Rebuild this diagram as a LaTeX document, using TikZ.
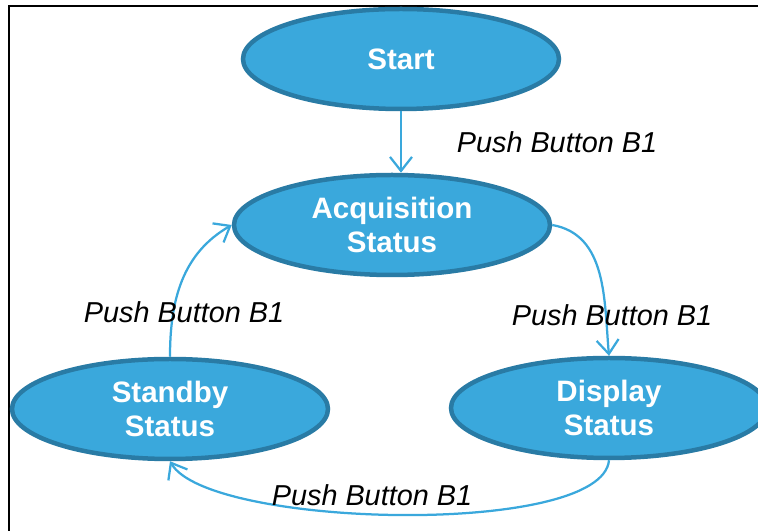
\documentclass[tikz,border=0pt]{standalone}
\usepackage{fontspec}
\setsansfont{Liberation Sans}
\usepackage{tikz}
\usetikzlibrary{shapes.geometric}
\usetikzlibrary{arrows.meta}
\definecolor{stateblue}{RGB}{58,168,220}
\definecolor{stateedge}{RGB}{41,123,165}

\begin{document}
\begin{tikzpicture}[
  state/.style={ellipse,fill=stateblue,draw=stateedge,line width=3.2pt,
    minimum width=7.9cm,minimum height=2.5cm,inner sep=0pt,align=center,
    text=white,font=\sffamily\bfseries\fontsize{21}{24.5}\selectfont},
  flow/.style={draw=stateblue,line width=1.6pt,
    -{Straight Barb[length=0.35cm,width=0.55cm]}},
  event/.style={font=\sffamily\itshape\fontsize{20.5}{24}\selectfont}]
\useasboundingbox (0,0) rectangle (18.95,13.275);
\draw[line width=2pt] (0.225,0) -- (0.225,13.125) -- (18.95,13.125);

\node (start) at (10.025,11.8) [state] {Start};
\node (acq) at (9.8,7.65) [state] {Acquisition\\Status};
\node (standby) at (4.25,3.05) [state] {Standby\\Status};
\node (display) at (15.225,3.075) [state] {Display\\Status};

\draw[flow] (start.south) -- (start.south |- acq.north);
\draw[flow] (acq.east) to[out=-10,in=95] (display.north);
\draw[flow] (display.south) to[out=-95,in=-60,looseness=0.45] (standby.south);
\draw[flow] (standby.north) to[out=90,in=210] (acq.west);

\node (evstart) at (13.925,9.725) [event] {Push Button B1};
\node (evacq) at (15.3,5.4) [event] {Push Button B1};
\node (evdisplay) at (9.3,0.9) [event] {Push Button B1};
\node (evstandby) at (4.6,5.475) [event] {Push Button B1};
\end{tikzpicture}
\end{document}
